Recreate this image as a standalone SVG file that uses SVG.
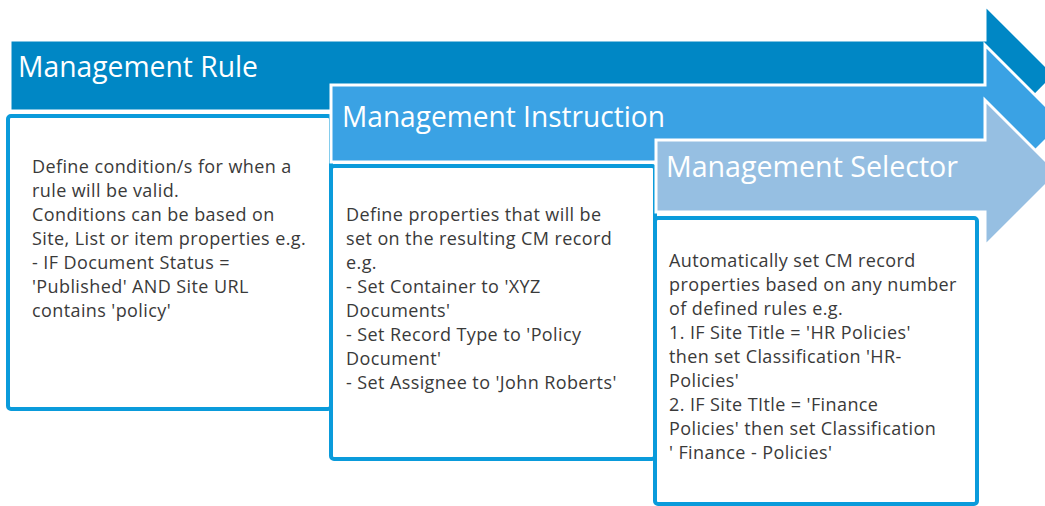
<svg xmlns="http://www.w3.org/2000/svg" width="1045" height="506" viewBox="0 0 1045 506">
<style>
.arrow{stroke:#ffffff;stroke-width:3;stroke-linejoin:miter}
.a1{fill:#0087C5}
.a2{fill:#3AA2E4}
.a3{fill:#96BFE2}
.box{fill:#ffffff;stroke:#0A9BDB;stroke-width:4}
.title{font-family:"Open Sans","Noto Sans",sans-serif;font-size:30px;fill:#ffffff}
.body{font-family:"Open Sans","Noto Sans",sans-serif;font-size:18px;letter-spacing:0.4px;fill:#3a3a3a}
</style>
<rect width="1045" height="506" fill="#ffffff"/>
<g id="rule">
<polygon class="arrow a1" points="10,40 985,40 985,5 1055,75 985,146 985,111 10,111"/>
<text class="title" x="18" y="77" textLength="240" lengthAdjust="spacingAndGlyphs">Management Rule</text>
<rect class="box" x="8" y="116" width="323" height="293" rx="3"/>
<text class="body" x="32" y="173">
<tspan x="32" dy="0">Define condition/s for when a</tspan>
<tspan x="32" dy="24">rule will be valid.</tspan>
<tspan x="32" dy="24">Conditions can be based on</tspan>
<tspan x="32" dy="24">Site, List or item properties e.g.</tspan>
<tspan x="32" dy="24">- IF Document Status =</tspan>
<tspan x="32" dy="24">'Published' AND Site URL</tspan>
<tspan x="32" dy="24">contains 'policy'</tspan>
</text>
</g>
<g id="instruction">
<polygon class="arrow a2" points="331,85 985,85 985,45 1063,123 985,201 985,162 331,162"/>
<text class="title" x="342" y="127" textLength="323" lengthAdjust="spacingAndGlyphs">Management Instruction</text>
<rect class="box" x="331" y="166" width="324" height="293" rx="3"/>
<text class="body" x="346" y="221">
<tspan x="346" dy="0">Define properties that will be</tspan>
<tspan x="346" dy="24">set on the resulting CM record</tspan>
<tspan x="346" dy="24">e.g.</tspan>
<tspan x="346" dy="24">- Set Container to 'XYZ</tspan>
<tspan x="346" dy="24">Documents'</tspan>
<tspan x="346" dy="24">- Set Record Type to 'Policy</tspan>
<tspan x="346" dy="24">Document'</tspan>
<tspan x="346" dy="24">- Set Assignee to 'John Roberts'</tspan>
</text>
</g>
<g id="selector">
<polygon class="arrow a3" points="656,140 985,140 985,100 1058,173 985,246 985,212 656,212"/>
<text class="title" x="666" y="177" textLength="292" lengthAdjust="spacingAndGlyphs">Management Selector</text>
<rect class="box" x="655" y="218" width="322" height="286" rx="3"/>
<text class="body" x="669" y="267">
<tspan x="669" dy="0">Automatically set CM record</tspan>
<tspan x="669" dy="24">properties based on any number</tspan>
<tspan x="669" dy="24">of defined rules e.g.</tspan>
<tspan x="669" dy="24">1. IF Site Title = 'HR Policies'</tspan>
<tspan x="669" dy="24">then set Classification 'HR-</tspan>
<tspan x="669" dy="24">Policies'</tspan>
<tspan x="669" dy="24">2. IF Site TItle = 'Finance</tspan>
<tspan x="669" dy="24">Policies' then set Classification</tspan>
<tspan x="669" dy="24">' Finance - Policies'</tspan>
</text>
</g>
<g id="connectors"></g>
</svg>
